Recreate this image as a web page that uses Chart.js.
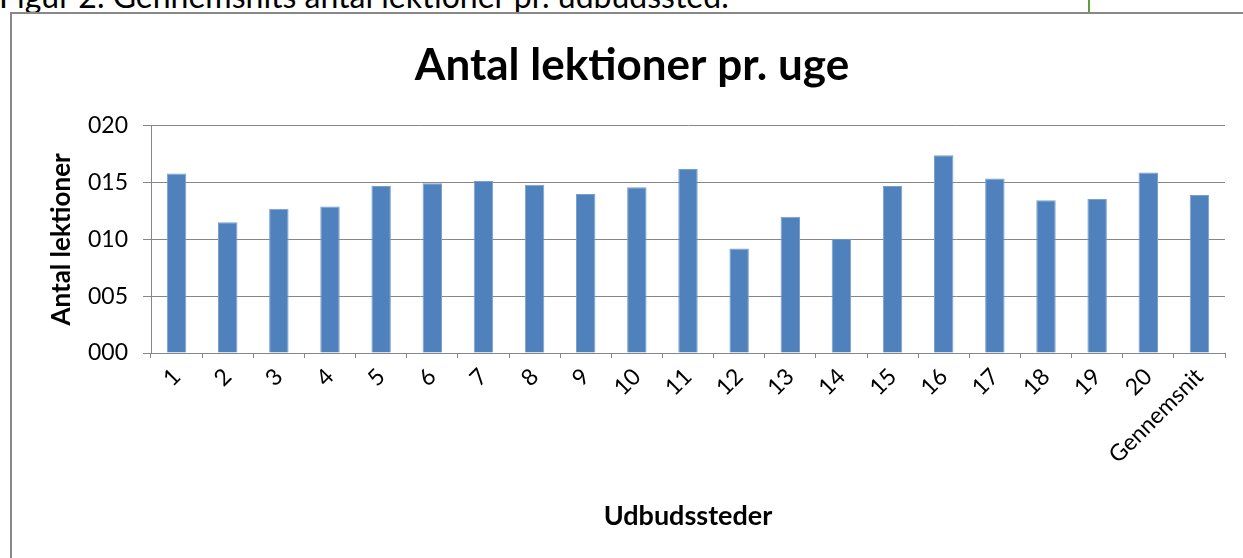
<!DOCTYPE html>
<html>
<head>
<meta charset="utf-8">
<script src="https://cdn.jsdelivr.net/npm/chart.js@4.4.0/dist/chart.umd.min.js"></script>
<style>
  html, body { margin: 0; padding: 0; background: #fff; overflow: hidden; }
  body { width: 1243px; height: 558px; position: relative; font-family: Lato, sans-serif; }
  #caption { position: absolute; left: -1px; top: -24px; font-size: 32px; color: #000; white-space: nowrap; }
  #green { position: absolute; left: 1088px; top: 0; width: 2px; height: 12px; background: #5f9e3c; }
  #box { position: absolute; left: 10px; top: 12px; width: 1250px; height: 560px; border: 2px solid #888; box-sizing: border-box; }
  #wrap { position: absolute; left: 12px; top: 14px; width: 1231px; height: 544px; }
</style>
</head>
<body>
<div id="caption">Figur 2. Gennemsnits antal lektioner pr. udbudssted.</div>
<div id="green"></div>
<div id="box"></div>
<div id="wrap"><canvas id="c"></canvas></div>
<script>
const categories = ['1','2','3','4','5','6','7','8','9','10','11','12','13','14','15','16','17','18','19','20','Gennemsnit'];
const lektioner = [15.8, 11.5, 12.7, 12.9, 14.7, 14.95, 15.15, 14.8, 14.0, 14.6, 16.2, 9.2, 12.0, 10.05, 14.7, 17.4, 15.35, 13.45, 13.55, 15.9, 13.9];
const yTicks = [0, 5, 10, 15, 20];

const font = 'Lato, "Open Sans", sans-serif';
const gridGrey = '#868686';

new Chart(document.getElementById('c'), {
  type: 'bar',
  data: {
    labels: categories,
    datasets: [{
      data: lektioner,
      backgroundColor: '#4F81BD',
      borderColor: '#7a9fcc',
      borderWidth: 1,
      barPercentage: 0.38,
      categoryPercentage: 1
    }]
  },
  options: {
    responsive: true,
    maintainAspectRatio: false,
    animation: false,
    // left/right padding also puts the title centre where the original has it
    layout: { padding: { left: 27, right: 18, top: 0, bottom: 0 } },
    plugins: {
      legend: { display: false },
      tooltip: { enabled: false },
      title: {
        display: true,
        text: 'Antal lektioner pr. uge',
        color: '#000',
        font: { family: font, size: 44, weight: 'bold' },
        padding: { top: 25, bottom: 34 }
      }
    },
    scales: {
      x: {
        grid: { drawOnChartArea: false, drawTicks: true, tickLength: 5, color: gridGrey, offset: true },
        border: { color: gridGrey },
        ticks: { color: '#000', font: { family: font, size: 23 }, minRotation: 45, maxRotation: 45, padding: 5 },
        title: { display: true, text: 'Udbudssteder', color: '#000', font: { family: font, size: 27, weight: 'bold' }, padding: { bottom: 26 } },
        afterFit: s => { s.height = 205; }
      },
      y: {
        min: 0, max: 20,
        afterBuildTicks: s => { s.ticks = yTicks.map(v => ({ value: v })); },
        grid: { color: gridGrey, tickLength: 8 },
        border: { color: gridGrey },
        ticks: { color: '#000', font: { family: font, size: 23 }, padding: 15, callback: v => String(v).padStart(3, '0') },
        title: { display: true, text: 'Antal lektioner', color: '#000', font: { family: font, size: 26, weight: 'bold' }, padding: { top: 7 } },
        afterFit: s => { s.width = 112; }
      }
    }
  }
});
</script>
</body>
</html>
